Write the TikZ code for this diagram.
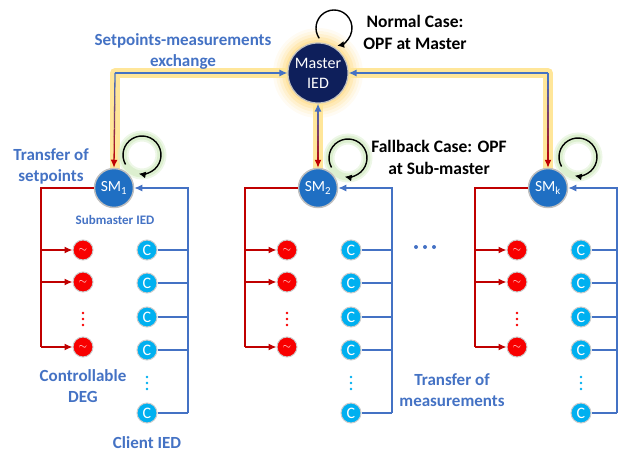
\documentclass[tikz,border=0pt]{standalone}
\usepackage{fontspec}
\setmainfont{Carlito}
\usetikzlibrary{arrows.meta,calc}
\definecolor{tb}{HTML}{4472C4}
\definecolor{tred}{HTML}{C00000}
\definecolor{navy}{HTML}{0E1F5B}
\definecolor{smblue}{HTML}{1F6FC3}
\definecolor{cyanc}{HTML}{00B0F0}
\definecolor{degred}{HTML}{F80000}
\definecolor{rimgrey}{HTML}{BFBFBF}
\definecolor{glowy}{HTML}{FFE699}
\definecolor{glowg}{HTML}{DCEFCF}
\begin{document}
\begin{tikzpicture}[x=1pt,y=-1pt,
  lbl/.style={font=\bfseries\fontsize{17}{21}\selectfont, align=center, text=tb},
  blk/.style={font=\bfseries\fontsize{17.5}{22}\selectfont, align=center, text=black},
  master/.style={circle, fill=navy, draw=rimgrey, line width=1.2pt, minimum size=60pt, inner sep=0pt, text=white, align=center, font=\fontsize{16}{20}\selectfont},
  smnode/.style={circle, fill=smblue, draw=rimgrey, line width=1.5pt, minimum size=39pt, inner sep=0pt, text=white, font=\fontsize{15.5}{16}\selectfont},
  degnode/.style={circle, fill=degred, draw=rimgrey!80, line width=1pt, minimum size=20pt, inner sep=0pt, text=white, font=\fontsize{11}{11}\selectfont},
  cnode/.style={circle, fill=cyanc, draw=rimgrey!80, line width=1pt, minimum size=20pt, inner sep=0pt, text=white, font=\fontsize{16}{16}\selectfont},
  redl/.style={draw=tred, line width=1.3pt},
  bluel/.style={draw=tb, line width=1.3pt},
  tip/.style={-{Latex[length=8pt,width=7pt]}},
  looparrow/.style={draw=black, line width=1.4pt, -{Latex[length=7pt,width=7pt]}},
  glowline/.style={draw=glowy, line width=10pt, line join=round},
]
\useasboundingbox (0,0) rectangle (621,452);

% ---- master glow
\foreach \r/\o in {45/0.10, 42/0.15, 39/0.22, 36/0.35, 33/0.5} {
  \fill[glowy!90!orange, opacity=\o] (318,73) circle[radius=\r];
}

% coordinates
\coordinate (c1) at (115,73);
\coordinate (ck) at (548,73);

% ---- glow under the exchange lines
\draw[glowline] (290,73) -- (115,73) -- (115,170);
\draw[glowline] (346,73) -- (548,73) -- (548,170);
\draw[glowline] (318,100) -- (318,170);

% ---- self-loop glows
\foreach \cx/\cy in {142/155, 348/158, 578/157} {
  \draw[glowg, line width=11pt, opacity=0.5] (\cx,\cy) circle[radius=19];
  \draw[glowg, line width=7pt] (\cx,\cy) circle[radius=19];
}

% ---- nodes
\node[master] (m) at (318,73) {Master\\IED};
\node[smnode] (sm1) at (114,188) {SM\textsubscript{1}};
\node[smnode] (sm2) at (318,188) {SM\textsubscript{2}};
\node[smnode] (sm3) at (548,188) {SM\textsubscript{k}};

% ---- exchange lines
\draw[bluel, tip] (c1) -- (m.west);
\draw[bluel, tip] (ck) -- (m.east);
\foreach \src/\dst in {c1/sm1, ck/sm3} {
  \foreach \k in {0,...,11} {
    \pgfmathtruncatemacro{\p}{100-\k*9}
    \pgfmathsetmacro{\a}{\k/12}
    \pgfmathsetmacro{\b}{(\k+1)/12+0.002}
    \ifnum\k=11
      \draw[line width=1.3pt, draw=tb!\p!tred, tip] ($(\src)!\a!(\dst.north)$) -- (\dst.north);
    \else
      \draw[line width=1.3pt, draw=tb!\p!tred] ($(\src)!\a!(\dst.north)$) -- ($(\src)!\b!(\dst.north)$);
    \fi
  }
}
% middle double arrow
\foreach \k in {0,...,11} {
  \pgfmathtruncatemacro{\p}{100-\k*9}
  \pgfmathsetmacro{\a}{\k/12}
  \pgfmathsetmacro{\b}{(\k+1)/12+0.002}
  \ifnum\k=0
    \draw[line width=1.3pt, draw=tb, {Latex[length=8pt,width=7pt]}-] (m.south) -- ($(m.south)!\b!(sm2.north)$);
  \else\ifnum\k=11
    \draw[line width=1.3pt, draw=tb!\p!tred, tip] ($(m.south)!\a!(sm2.north)$) -- (sm2.north);
  \else
    \draw[line width=1.3pt, draw=tb!\p!tred] ($(m.south)!\a!(sm2.north)$) -- ($(m.south)!\b!(sm2.north)$);
  \fi\fi
}

% ---- self loops
\coordinate (lm) at (334,28);
\draw[looparrow] ([shift={(145:18)}]lm) arc[start angle=145, end angle=440, radius=18];
\coordinate (l1) at (142,155);
\draw[looparrow] ([shift={(150:19)}]l1) arc[start angle=150, end angle=460, radius=19];
\coordinate (l2) at (348,158);
\draw[looparrow] ([shift={(150:19)}]l2) arc[start angle=150, end angle=460, radius=19];
\coordinate (l3) at (578,157);
\draw[looparrow] ([shift={(150:19)}]l3) arc[start angle=150, end angle=460, radius=19];

% ---- submaster groups
\foreach \i/\x/\bb in {1/114/188, 2/318/392, 3/548/617} {
  % DEGs
  \node[degnode] (d\i a) at (\x-31,250) {$\sim$};
  \node[degnode] (d\i b) at (\x-31,282) {$\sim$};
  \node[degnode] (d\i c) at (\x-31,347) {$\sim$};
  \foreach \yy in {313,319,325} { \fill[degred] (\x-31,\yy) circle[radius=1.3]; }
  % clients
  \node[cnode] (c\i a) at (\x+33,250) {C};
  \node[cnode] (c\i b) at (\x+33,283) {C};
  \node[cnode] (c\i c) at (\x+33,317) {C};
  \node[cnode] (c\i d) at (\x+33,350) {C};
  \node[cnode] (c\i e) at (\x+33,413) {C};
  \foreach \yy in {377,383,389} { \fill[cyanc] (\x+33,\yy) circle[radius=1.3]; }
  % red bus
  \coordinate (rt\i) at (\x-73,188);
  \coordinate (rb\i) at (\x-73,347);
  \draw[redl] (sm\i.west) -- (rt\i) -- (rb\i);
  \draw[redl, tip] (\x-73,250) -- (d\i a.west);
  \draw[redl, tip] (\x-73,282) -- (d\i b.west);
  \draw[redl, tip] (rb\i) -- (d\i c.west);
  % blue bus
  \coordinate (bt\i) at (\bb,188);
  \coordinate (bb\i) at (\bb,413);
  \draw[bluel, tip] (bb\i) -- (bt\i) -- (sm\i.east);
  \foreach \s in {a,b,c,d,e} {
    \draw[bluel] (c\i\s.east) -- (c\i\s.east -| bt\i);
  }
}

% ---- horizontal ellipsis
\foreach \xx in {416,425,434} { \fill[tb] (\xx,247) circle[radius=2]; }

% ---- labels
\node[lbl] (t1) at (183,51) {Setpoints-measurements\\exchange};
\node[blk] (t2) at (415,32) {Normal Case:\\OPF at Master};
\node[blk] (t3) at (439,157) {Fallback Case: OPF\\at Sub-master};
\node[lbl] (t4) at (51,166) {Transfer of\\setpoints};
\node[lbl, font=\bfseries\fontsize{13}{15}\selectfont] (t5) at (115,220) {Submaster IED};
\node[lbl] (t6) at (83,386) {Controllable\\DEG};
\node[lbl] (t7) at (147,443) {Client IED};
\node[lbl] (t8) at (452,390) {Transfer of\\measurements};
\end{tikzpicture}
\end{document}
